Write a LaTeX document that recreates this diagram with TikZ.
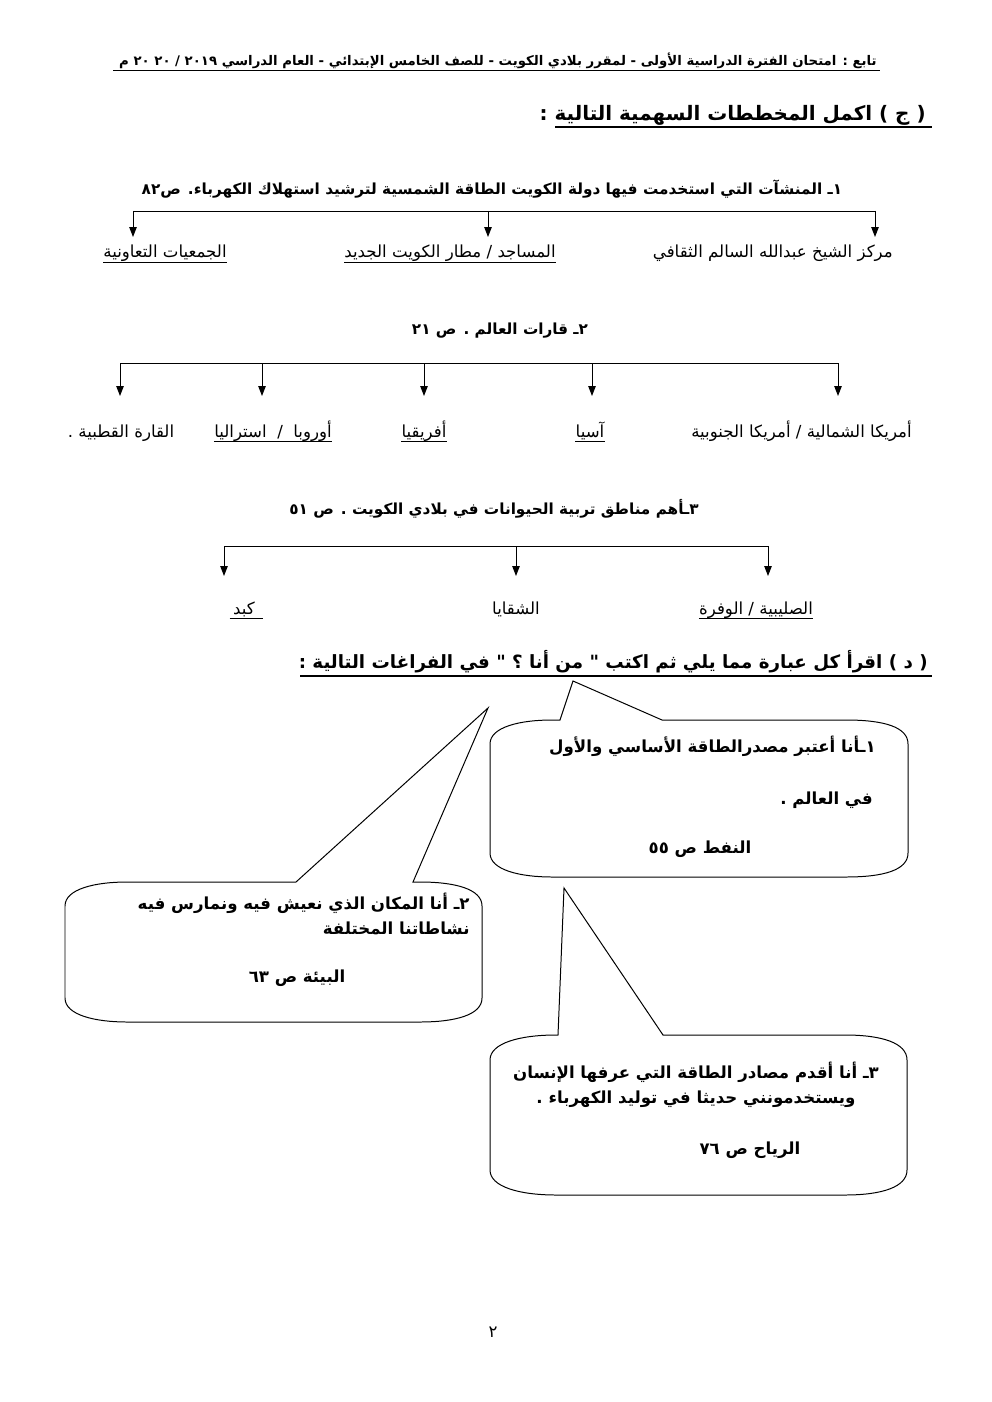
\documentclass[tikz,border=0pt]{standalone}
\usepackage{fontspec}
\usepackage{tikz}
\usetikzlibrary{arrows.meta}
\newfontfamily\arabicfont[Script=Arabic]{DejaVu Sans}
\TeXXeTstate=1
\newcommand{\rtxt}[1]{\beginR#1\endR}

\begin{document}
\begin{tikzpicture}[x=0.6023pt,y=-0.6023pt,
  headline/.style={font=\arabicfont\bfseries\fontsize{8}{10}\selectfont,inner sep=0pt},
  sechead/.style={font=\arabicfont\bfseries\fontsize{12}{14}\selectfont,inner sep=0pt},
  trtitle/.style={font=\arabicfont\bfseries\fontsize{9.2}{11}\selectfont,inner sep=0pt},
  leaf/.style={font=\arabicfont\fontsize{10}{12}\selectfont,inner sep=0pt},
  bubtxt/.style={font=\arabicfont\bfseries\fontsize{10}{15}\selectfont,inner sep=0pt},
  arr/.style={-{Triangle[length=6pt,width=4.5pt]},line width=0.6pt},
  bar/.style={line width=0.6pt},
  uline/.style={line width=0.6pt},
  bubble/.style={line width=0.6pt}]
  \useasboundingbox (0,0) rectangle (992,1402);
  % header
  \node[headline,anchor=base east] (hdr) at (877,66)
    {\rtxt{تابع : امتحان الفترة الدراسية الأولى - لمقرر بلادي الكويت - للصف الخامس الإبتدائي - العام الدراسي ٢٠١٩ / ٢٠ ٢٠ م}};
  \draw[uline] (113,71) -- (880,71);
  \node[sechead,anchor=base east] (secc) at (926,121) {\rtxt{( ج ) اكمل المخططات السهمية التالية :}};
  \draw[line width=1pt] (555,127) -- (932,127);
  % tree 1
  \node[trtitle,anchor=base] (t1) at (492,195)
    {\rtxt{١ـ المنشآت التي استخدمت فيها دولة الكويت الطاقة الشمسية لترشيد استهلاك الكهرباء. ص٨٢}};
  \coordinate (t1l) at (133,211); \coordinate (t1r) at (875,211);
  \draw[bar] (t1l) -- (t1r);
  \foreach \x [count=\i] in {133,488,875}{
    \coordinate (t1s\i) at (\x,211); \coordinate (t1e\i) at (\x,237);
    \draw[arr] (t1s\i) -- (t1e\i);}
  \node[leaf,anchor=base east] (t1c) at (893,258) {\rtxt{مركز الشيخ عبدالله السالم الثقافي}};
  \node[leaf,anchor=base] (t1b) at (450,258) {\rtxt{المساجد / مطار الكويت الجديد}};
  \node[leaf,anchor=base] (t1a) at (165,258) {\rtxt{الجمعيات التعاونية}};
  \foreach \n in {t1a,t1b}
    \draw[uline] ([yshift=-3pt]\n.base west) -- ([yshift=-3pt]\n.base east);
  % tree 2
  \node[trtitle,anchor=base] (t2) at (500,334) {\rtxt{٢ـ قارات العالم . ص ٢١}};
  \coordinate (t2l) at (120,363); \coordinate (t2r) at (838,363);
  \draw[bar] (t2l) -- (t2r);
  \foreach \x [count=\i] in {120,262,424,592,838}{
    \coordinate (t2s\i) at (\x,363); \coordinate (t2e\i) at (\x,396);
    \draw[arr] (t2s\i) -- (t2e\i);}
  \node[leaf,anchor=base east] (t2e) at (912,437) {\rtxt{أمريكا الشمالية / أمريكا الجنوبية}};
  \node[leaf,anchor=base] (t2d) at (590,437) {\rtxt{آسيا}};
  \node[leaf,anchor=base] (t2c) at (424,437) {\rtxt{أفريقيا}};
  \node[leaf,anchor=base] (t2b) at (273,437) {\rtxt{أوروبا~~/~~استراليا}};
  \node[leaf,anchor=base] (t2a) at (121,437) {\rtxt{القارة القطبية .}};
  \foreach \n in {t2b,t2c,t2d}
    \draw[uline] ([yshift=-3pt]\n.base west) -- ([yshift=-3pt]\n.base east);
  % tree 3
  \node[trtitle,anchor=base] (t3) at (494,514) {\rtxt{٣ـأهم مناطق تربية الحيوانات في بلادي الكويت . ص ٥١}};
  \coordinate (t3l) at (224,546); \coordinate (t3r) at (768,546);
  \draw[bar] (t3l) -- (t3r);
  \foreach \x [count=\i] in {224,516,768}{
    \coordinate (t3s\i) at (\x,546); \coordinate (t3e\i) at (\x,576);
    \draw[arr] (t3s\i) -- (t3e\i);}
  \node[leaf,anchor=base] (t3c) at (756,614) {\rtxt{الصليبية / الوفرة}};
  \node[leaf,anchor=base] (t3b) at (516,614) {\rtxt{الشقايا}};
  \node[leaf,anchor=base] (t3a) at (244,614) {\rtxt{كبد}};
  \draw[uline] ([yshift=-3pt]t3c.base west) -- ([yshift=-3pt]t3c.base east);
  \draw[uline] ([yshift=-3pt,xshift=-2pt]t3a.base west) -- ([yshift=-3pt,xshift=5pt]t3a.base east);
  % section d
  \node[sechead,font=\arabicfont\bfseries\fontsize{11}{13}\selectfont,anchor=base east] (secd) at (928,668)
    {\rtxt{( د ) اقرأ كل عبارة مما يلي ثم اكتب " من أنا ؟ " في الفراغات التالية :}};
  \draw[line width=1pt] (300,676) -- (932,676);
  % callouts
  \draw[bubble] (490,744) .. controls (490,727) and (520,720) .. (552,720) -- (560,720) -- (573,681)
    -- (662,720) -- (846,720) .. controls (884,720) and (908,727) .. (908,744) -- (908,853)
    .. controls (908,870) and (884,877) .. (846,877) -- (552,877) .. controls (520,877) and (490,870) .. (490,853) -- cycle;
  \draw[bubble] (65,906) .. controls (65,889) and (95,882) .. (127,882) -- (296,882) -- (488,708)
    -- (413,882) -- (420,882) .. controls (455,882) and (482,889) .. (482,906) -- (482,998)
    .. controls (482,1015) and (455,1022) .. (420,1022) -- (127,1022) .. controls (95,1022) and (65,1015) .. (65,998) -- cycle;
  \draw[bubble] (490,1060) .. controls (490,1043) and (520,1035) .. (556,1035) -- (558,1035) -- (564,888)
    -- (663,1035) -- (845,1035) .. controls (882,1035) and (907,1043) .. (907,1060) -- (907,1170)
    .. controls (907,1187) and (882,1195) .. (845,1195) -- (556,1195) .. controls (520,1195) and (490,1187) .. (490,1170) -- cycle;
  \node[bubtxt,anchor=base east] (b1a) at (876,752) {\rtxt{١ـأنا أعتبر مصدرالطاقة الأساسي والأول}};
  \node[bubtxt,anchor=base east] (b1b) at (873,804) {\rtxt{في العالم .}};
  \node[bubtxt,anchor=base] (b1c) at (700,853) {\rtxt{النفط ص ٥٥}};
  \node[bubtxt,anchor=north east,align=right] (b2a) at (470,893)
    {\rtxt{٢ـ أنا المكان الذي نعيش فيه ونمارس فيه}\\ \rtxt{نشاطاتنا المختلفة}};
  \node[bubtxt,anchor=base] (b2c) at (297,982) {\rtxt{البيئة ص ٦٣}};
  \node[bubtxt,anchor=north,align=center] (b3a) at (696,1062)
    {\rtxt{٣ـ أنا أقدم مصادر الطاقة التي عرفها الإنسان}\\ \rtxt{ويستخدمونني حديثا في توليد الكهرباء .}};
  \node[bubtxt,anchor=base] (b3c) at (750,1154) {\rtxt{الرياح ص ٧٦}};
  % page number
  \node[leaf,anchor=base] (pg) at (493,1337) {\rtxt{٢}};
\end{tikzpicture}
\end{document}
